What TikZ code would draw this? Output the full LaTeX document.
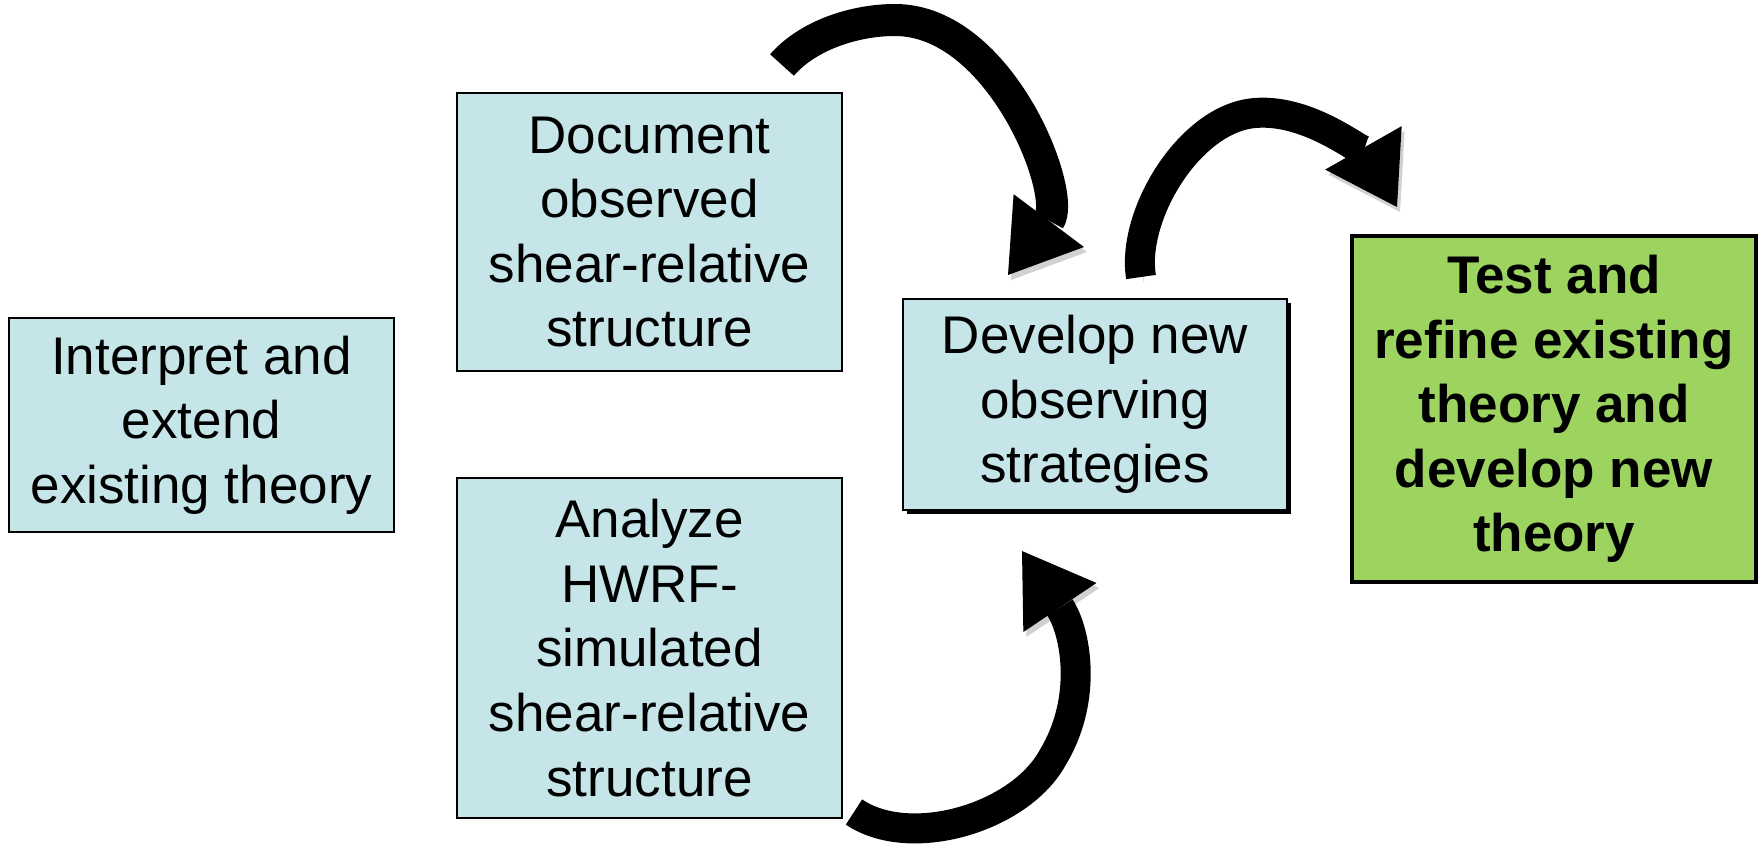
\documentclass[tikz,border=0pt]{standalone}
\usepackage{fontspec}
\setmainfont{Liberation Sans}
\usepackage{tikz}
\usetikzlibrary{arrows.meta}
\usetikzlibrary{shadows}
\definecolor{paleblue}{HTML}{C5E5E8}
\definecolor{leafgreen}{HTML}{9DD35F}
\tikzset{lbox/.style = {draw, fill = paleblue, line width = 1.2pt, align = center, inner sep = 0, font = \fontsize{26.5}{32.3}\selectfont}}
\tikzset{gbox/.style = {lbox, fill = leafgreen, line width = 2pt, font = \fontsize{26.5}{32.3}\selectfont\bfseries}}
\tikzset{bigarrow/.style = {line width = 16pt, -{Triangle[width = 44pt, length = 34pt, line width = 0pt]}}}
\tikzset{arrshadow/.style = {draw = black!18, transform canvas = {shift = {(1.5pt, -2.5pt)}}}}

\begin{document}
\begin{tikzpicture}[x = 0.5pt, y = -0.5pt]
    \useasboundingbox (0, 0) rectangle (1762, 847);

    \node [lbox, minimum width = 192.5pt, minimum height = 107pt] (interp) at (201.5, 425) {Interpret and\\extend\\existing theory};
    \node [lbox, minimum width = 192.5pt, minimum height = 139pt] (observed) at (649.5, 232) {Document\\observed\\shear-relative\\structure};
    \node [lbox, minimum width = 192.5pt, minimum height = 170pt] (hwrf) at (649.5, 648) {Analyze\\HWRF-\\simulated\\shear-relative\\structure};
    \node [lbox, minimum width = 192pt, minimum height = 105.5pt,
           drop shadow = {shadow xshift = 2pt, shadow yshift = -2pt, fill = black, opacity = 1}] (strategies) at (1095, 404.5) {Develop new\\observing\\strategies};
    \node [gbox, minimum width = 202pt, minimum height = 173pt] (theory) at (1554, 409) {Test and\\refine existing\\theory and\\develop new\\theory};

    \coordinate (obsTail) at (782, 65);
    \coordinate (stratTop) at (1008, 275);
    \coordinate (hwrfTail) at (854, 812);
    \coordinate (stratBot) at (1022, 551);
    \coordinate (stratOut) at (1141, 277);
    \coordinate (theoryIn) at (1397, 207);

    \draw [bigarrow, preaction = {arrshadow}] (obsTail) .. controls (808, 35) and (855, 20) .. (895, 20)
        .. controls (1001, 20) and (1068, 195) .. (stratTop);
    \draw [bigarrow, line width = 15pt, preaction = {arrshadow}] (hwrfTail) .. controls (910, 850) and (1020, 818) .. (1053, 757)
        .. controls (1089, 697) and (1075, 630) .. (stratBot);
    \draw [bigarrow, line width = 15pt, preaction = {arrshadow}] (stratOut) .. controls (1131, 215) and (1190, 118) .. (1255, 113)
        .. controls (1315, 108) and (1372, 163) .. (theoryIn);
\end{tikzpicture}
\end{document}
